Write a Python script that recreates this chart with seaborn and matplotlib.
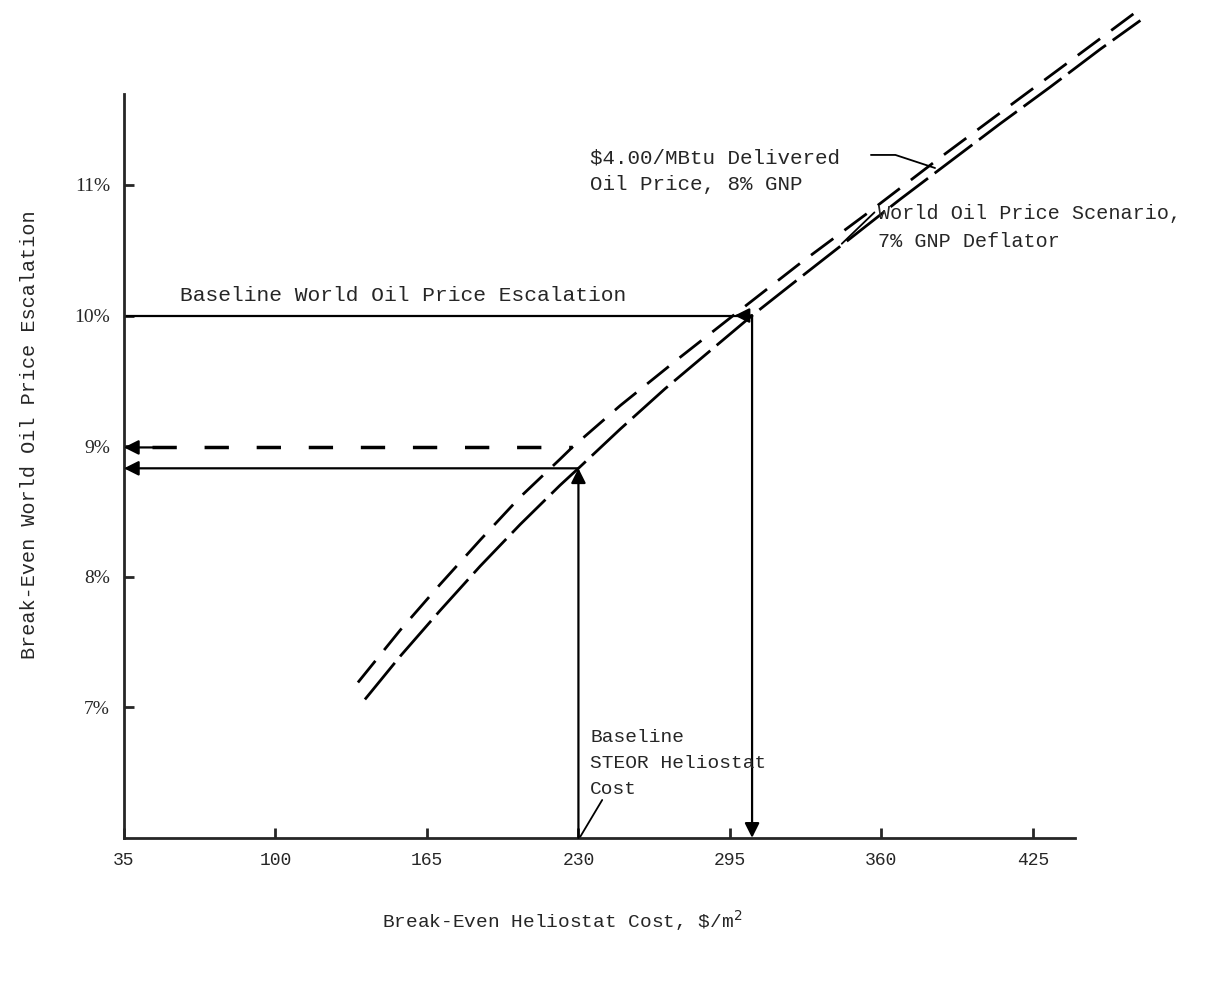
import numpy as np
import pandas as pd
import matplotlib
matplotlib.use("Agg")
import matplotlib.pyplot as plt
import seaborn as sns

# Curves (heliostat cost $/m2, escalation %)
oil4_cost = [135.4, 153.5, 170.6, 187.8, 205.0, 222.1, 227.3, 247.9, 273.6, 296.4,
             325.1, 355.2, 385.2, 415.3, 441.0, 468.1]
oil4_esc = [7.19, 7.59, 7.94, 8.28, 8.61, 8.90, 8.99, 9.31, 9.68, 10.0,
            10.40, 10.80, 11.21, 11.61, 11.95, 12.31]

world_cost = [138.4, 153.5, 170.6, 187.8, 205.0, 222.1, 230.0, 247.9, 267.2, 286.5,
              304.5, 325.1, 346.6, 368.0, 389.5, 411.0, 432.4, 453.9, 471.1]
world_esc = [7.06, 7.39, 7.74, 8.08, 8.40, 8.70, 8.83, 9.13, 9.44, 9.73,
             10.0, 10.29, 10.59, 10.89, 11.18, 11.47, 11.75, 12.04, 12.26]

# Reference values
baseline_cost = 230
baseline_esc = 10.0
breakeven_world = 8.83
breakeven_oil4 = 8.99
breakeven_cost_at_baseline = 304.5
oil4_cost_at_baseline = 297.0

x_ticks = [35, 100, 165, 230, 295, 360, 425]
y_ticks = [7, 8, 9, 10, 11]
y_labels = ["7%", "8%", "9%", "10%", "11%"]

sns.set_style("ticks")
plt.rcParams["font.family"] = ["Liberation Mono", "DejaVu Sans"]

fig = plt.figure(figsize=(12.15, 10.01), dpi=100)
ax = fig.add_axes([0.102, 0.163, 0.869, 0.827])
ax.set_xlim(35, 488)
ax.set_ylim(6, 12.34)

df_oil = pd.DataFrame({"cost": oil4_cost, "esc": oil4_esc})
df_world = pd.DataFrame({"cost": world_cost, "esc": world_esc})
sns.lineplot(data=df_oil, x="cost", y="esc", ax=ax, color="black", lw=2, sort=False)
ax.lines[-1].set_dashes((10, 5))
sns.lineplot(data=df_world, x="cost", y="esc", ax=ax, color="black", lw=2, sort=False)
ax.lines[-1].set_dashes((17, 3))

arrow = dict(arrowstyle="-|>", color="black", lw=1.6, mutation_scale=22,
             shrinkA=0, shrinkB=0)

# baseline escalation line and drop to cost axis
ax.plot([35, breakeven_cost_at_baseline], [baseline_esc, baseline_esc], color="black", lw=1.6)
ax.annotate("", xy=(oil4_cost_at_baseline, baseline_esc),
            xytext=(breakeven_cost_at_baseline, baseline_esc), arrowprops=arrow)
ax.annotate("", xy=(breakeven_cost_at_baseline, 6.0),
            xytext=(breakeven_cost_at_baseline, baseline_esc), arrowprops=arrow)

# baseline heliostat cost up to curve and across
ax.annotate("", xy=(baseline_cost, breakeven_world), xytext=(baseline_cost, 6.0),
            arrowprops=arrow)
ax.annotate("", xy=(35, breakeven_world), xytext=(baseline_cost, breakeven_world),
            arrowprops=arrow)
ax.plot([47, 227.3], [breakeven_oil4, breakeven_oil4], color="black", lw=2.5,
        dashes=(7, 8))
ax.annotate("", xy=(35, breakeven_oil4), xytext=(48, breakeven_oil4), arrowprops=arrow)

ax.text(59, 10.15, "Baseline World Oil Price Escalation", fontsize=15.3, va="center")
ax.text(235, 11.21, r"\$4.00/MBtu Delivered", fontsize=15, va="center")
ax.text(235, 11.0, "Oil Price, 8% GNP", fontsize=15, va="center")
ax.plot([355.5, 366, 383], [11.23, 11.23, 11.13], color="black", lw=1.3)
ax.text(358.5, 10.78, "World Oil Price Scenario,", fontsize=14.5, va="center")
ax.text(358.5, 10.57, "7% GNP Deflator", fontsize=14.5, va="center")
ax.plot([357.0, 343.0], [10.79, 10.55], color="black", lw=1.3)
ax.text(235, 6.77, "Baseline", fontsize=14, va="center")
ax.text(235, 6.57, "STEOR Heliostat", fontsize=14, va="center")
ax.text(235, 6.37, "Cost", fontsize=14, va="center")
ax.plot([240.2, 230.5], [6.29, 6.0], color="black", lw=1.3)

sns.despine(ax=ax)
ax.spines["left"].set_bounds(6, 11.7)
ax.spines["bottom"].set_bounds(35, 443)
for s in ["left", "bottom"]:
    ax.spines[s].set_linewidth(2)

ax.set_xticks(x_ticks)
ax.set_xticklabels([str(v) for v in x_ticks])
ax.set_yticks(y_ticks)
ax.set_yticklabels(y_labels, family="Liberation Serif", fontsize=14)
ax.tick_params(direction="in", length=7, width=2, pad=10)
ax.tick_params(axis="x", labelsize=13)

ax.set_xlabel(r"Break-Even Heliostat Cost, \$/m$^2$", fontsize=14)
ax.set_ylabel("Break-Even World Oil Price Escalation", fontsize=14.5)
ax.xaxis.set_label_coords(0.415, -0.085)
ax.yaxis.set_label_coords(-0.08, 0.487)

fig.savefig("out.png", dpi=100)
